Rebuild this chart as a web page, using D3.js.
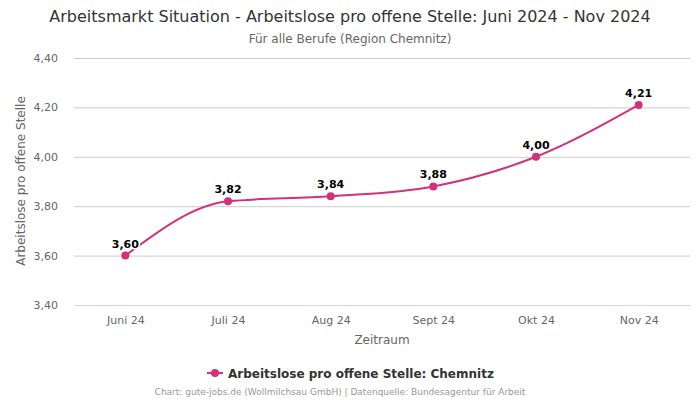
<!DOCTYPE html>
<html><head><meta charset="utf-8">
<script src="https://cdn.jsdelivr.net/npm/d3@7"></script>
<style>body{margin:0;background:#fff;font-family:"DejaVu Sans",sans-serif}</style>
</head><body><svg id="c" width="700" height="400"></svg>
<script>
const categories = ["Juni 24","Juli 24","Aug 24","Sept 24","Okt 24","Nov 24"];
const values = [3.60,3.82,3.84,3.88,4.00,4.21];
const yTicks = [3.40,3.60,3.80,4.00,4.20,4.40];
const seriesName = "Arbeitslose pro offene Stelle: Chemnitz";

(function(){
const svg = d3.select("#c");
const pLeft=74,pRight=690,pTop=58,pBottom=305;
const x = d3.scalePoint().domain(categories).range([pLeft,pRight]).padding(0.5);
const y = d3.scaleLinear().domain([3.4,4.4]).range([pBottom,pTop]);
const fmt = v => d3.format(".2f")(v).replace(".",",");
const color = "#d2317b";

svg.append("text").attr("x",350).attr("y",22).attr("text-anchor","middle")
  .attr("fill","#333").style("font-size","16px").text("Arbeitsmarkt Situation - Arbeitslose pro offene Stelle: Juni 2024 - Nov 2024");
svg.append("text").attr("x",350).attr("y",43).attr("text-anchor","middle")
  .attr("fill","#666").style("font-size","12px").text("Für alle Berufe (Region Chemnitz)");

const gy = svg.append("g").attr("transform",`translate(${pLeft},0)`)
  .call(d3.axisLeft(y).tickValues(yTicks).tickSize(-(pRight-pLeft)).tickFormat(fmt));
gy.select(".domain").remove();
gy.selectAll(".tick line").attr("stroke","#ccc");
gy.selectAll(".tick text").attr("fill","#666").attr("x",-16).style("font-size","11px").style("font-family","DejaVu Sans");

const gx = svg.append("g").attr("transform",`translate(0,${pBottom})`)
  .call(d3.axisBottom(x).tickSize(0).tickPadding(11));
gx.select(".domain").attr("stroke","#ccd6eb");
gx.selectAll(".tick text").attr("fill","#666").style("font-size","11px").style("font-family","DejaVu Sans");

svg.append("text").attr("x",382).attr("y",344).attr("text-anchor","middle").attr("fill","#666")
  .style("font-size","12px").text("Zeitraum");
svg.append("text").attr("transform","translate(25,181) rotate(-90)").attr("text-anchor","middle")
  .attr("fill","#666").style("font-size","12px").text("Arbeitslose pro offene Stelle");

const line = d3.line().x((d,i)=>x(categories[i])).y(d=>y(d)).curve(d3.curveMonotoneX);
svg.append("path").datum(values).attr("d",line).attr("fill","none").attr("stroke",color).attr("stroke-width",2);
svg.selectAll("circle.p").data(values).join("circle").attr("class","p")
  .attr("cx",(d,i)=>x(categories[i])).attr("cy",d=>y(d)).attr("r",4).attr("fill",color);
svg.selectAll("text.lbl").data(values).join("text").attr("class","lbl")
  .attr("x",(d,i)=>x(categories[i])).attr("y",d=>y(d)-8).attr("text-anchor","middle")
  .attr("fill","#000").attr("stroke","#fff").attr("stroke-width",3).attr("paint-order","stroke")
  .style("font-size","11px").style("font-weight","bold").text(fmt);

const lg = svg.append("g");
lg.append("line").attr("x1",207).attr("x2",223).attr("y1",373).attr("y2",373).attr("stroke",color).attr("stroke-width",2);
lg.append("circle").attr("cx",215).attr("cy",373).attr("r",4).attr("fill",color);
lg.append("text").attr("x",228).attr("y",377.5).attr("fill","#333").style("font-size","12px").style("font-weight","bold").text(seriesName);

svg.append("text").attr("x",340).attr("y",395).attr("text-anchor","middle").attr("fill","#999")
  .style("font-size","9px").text("Chart: gute-jobs.de (Wollmilchsau GmbH) | Datenquelle: Bundesagentur für Arbeit");
})();
</script></body></html>
